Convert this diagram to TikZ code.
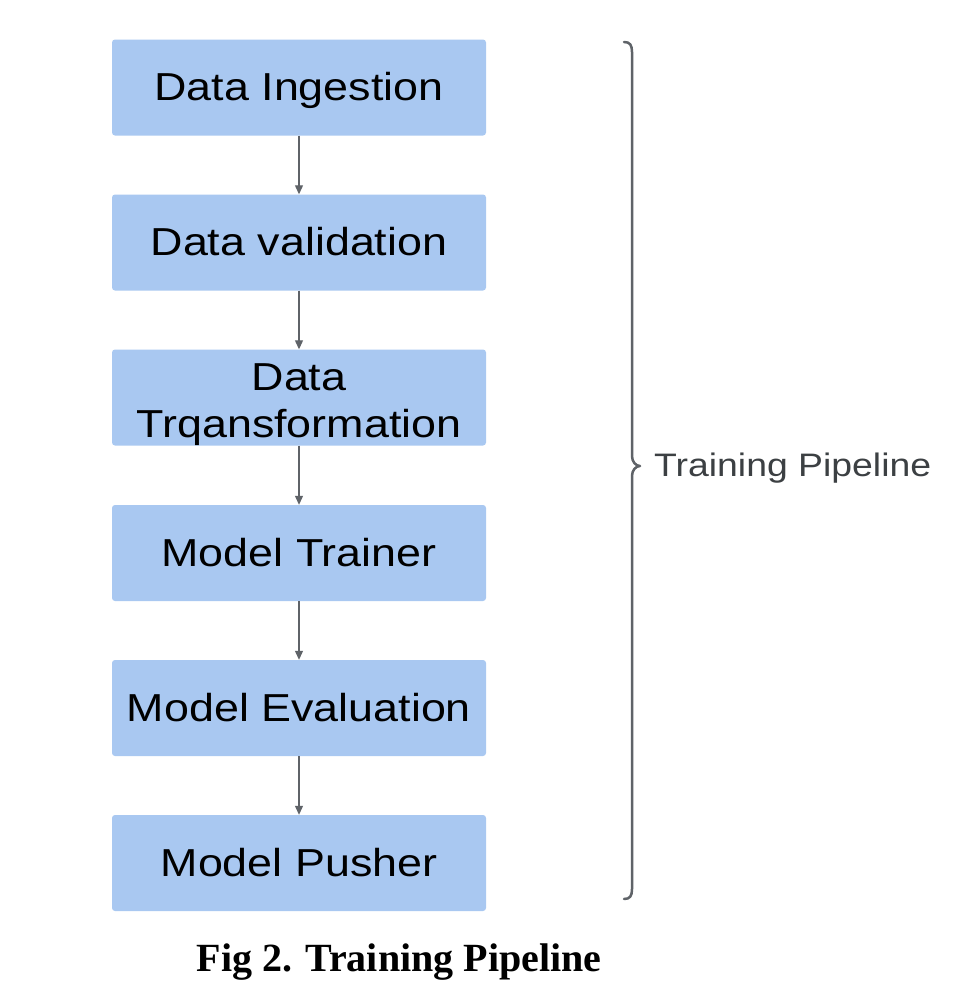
\documentclass[tikz,border=0pt]{standalone}
\usepackage{fontspec}
\setmainfont{Liberation Serif}
\newfontfamily\boxfont[FakeStretch=1.15]{Liberation Sans}
\usetikzlibrary{arrows.meta}
\definecolor{boxblue}{HTML}{A9C8F1}
\definecolor{linegray}{HTML}{5F6368}
\definecolor{labgray}{HTML}{3C4043}
\begin{document}
\begin{tikzpicture}[x=1pt,y=-1pt,
  boxtext/.style={text=black,font=\boxfont\fontsize{39}{47}\selectfont,inner sep=0pt},
  stage/.style={boxtext,draw=none,fill=boxblue,rounded corners=3pt,minimum width=374pt,minimum height=96pt,
    align=center,text height=26pt,text depth=0pt},
  flow/.style={draw=linegray,line width=1.2pt,-{Triangle[length=9pt,width=8pt]}}]
\useasboundingbox (0,0) rectangle (960,994);
\fill[white] (0,0) rectangle (960,994);
\node[stage] (s1) at (299,87.5) {Data Ingestion};
\node[stage] (s2) at (299,242.5) {Data validation};
\node[stage] (s3) at (299,397.5) {};
\node[boxtext,anchor=base] (s3a) at (299,390) {Data};
\node[boxtext,anchor=base] (s3b) at (299,437) {Trqansformation};
\node[stage] (s4) at (299,553) {Model Trainer};
\node[stage] (s5) at (299,708) {Model Evaluation};
\node[stage] (s6) at (299,863) {Model Pusher};
\draw[flow] (s1) -- (s2);
\draw[flow] (s2) -- (s3);
\draw[flow] (s3) -- (s4);
\draw[flow] (s4) -- (s5);
\draw[flow] (s5) -- (s6);
\coordinate (btop) at (624,42);
\coordinate (bmid) at (640,466);
\coordinate (bbot) at (624,899);
\draw[linegray,line width=2.5pt,line cap=round,line join=round]
  (btop) .. controls (630,42) and (632,45) .. (632,52) -- (632,456)
  .. controls (632,462) and (636,466) .. (bmid)
  .. controls (636,466) and (632,470) .. (632,476) -- (632,889)
  .. controls (632,896) and (630,899) .. (bbot);
\node[anchor=west,text=labgray,font=\boxfont\fontsize{32.5}{38}\selectfont,inner sep=0pt] (lab) at (654,468) {Training Pipeline};
\node[font=\bfseries\fontsize{40}{48}\selectfont,inner sep=0pt] (cap) at (399,962) {Fig 2. Training Pipeline};
\end{tikzpicture}
\end{document}
